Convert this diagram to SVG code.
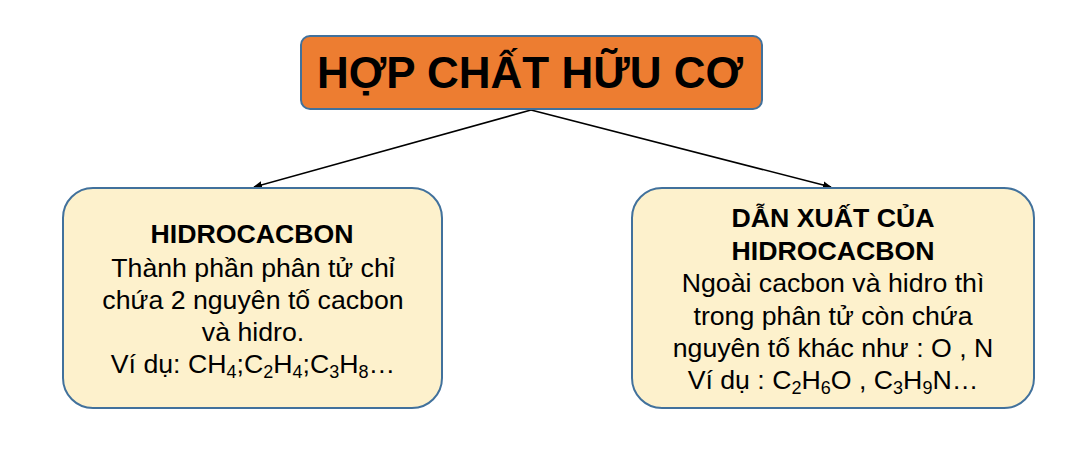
<svg xmlns="http://www.w3.org/2000/svg" width="1090" height="450" viewBox="0 0 1090 450">
<style>
.box{fill:#FDF1CC;stroke:#41719C;stroke-width:2}
.t{font-family:"Liberation Sans",Arial,sans-serif;fill:#000;text-anchor:middle;font-size:26.7px}
.b{font-weight:bold}
.s{font-size:18px}
</style>
<defs>
<marker id="ah" viewBox="0 0 10 10" refX="9" refY="5" markerWidth="9" markerHeight="9" orient="auto" markerUnits="userSpaceOnUse">
<path d="M0,1 L10,5 L0,9 z" fill="#000"/>
</marker>
</defs>
<rect width="1090" height="450" fill="#fff"/>
<g id="connectors" stroke="#000" stroke-width="1.6" fill="none">
<line x1="531" y1="110" x2="254" y2="187" marker-end="url(#ah)"/>
<line x1="531" y1="110" x2="831" y2="187" marker-end="url(#ah)"/>
</g>
<g id="root">
<rect x="301" y="36" width="461" height="73" rx="9" fill="#ED7D31" stroke="#41719C" stroke-width="2"/>
<text class="t b" x="530" y="88" style="font-size:44px">HỢP CHẤT HỮU CƠ</text>
</g>
<g id="hidrocacbon">
<rect class="box" x="63" y="188" width="379" height="220" rx="30"/>
<text class="t b" x="252" y="243">HIDROCACBON</text>
<text class="t" x="253" y="277">Thành phần phân tử chỉ</text>
<text class="t" x="253" y="309">chứa 2 nguyên tố cacbon</text>
<text class="t" x="253" y="341">và hidro.</text>
<text class="t" x="253" y="373">Ví dụ: CH<tspan class="s" dy="5">4</tspan><tspan dy="-5">;C</tspan><tspan class="s" dy="5">2</tspan><tspan dy="-5">H</tspan><tspan class="s" dy="5">4</tspan><tspan dy="-5">;C</tspan><tspan class="s" dy="5">3</tspan><tspan dy="-5">H</tspan><tspan class="s" dy="5">8</tspan><tspan dy="-5">…</tspan></text>
</g>
<g id="dan-xuat">
<rect class="box" x="632" y="188" width="402" height="220" rx="30"/>
<text class="t b" x="833" y="227">DẪN XUẤT CỦA</text>
<text class="t b" x="833" y="260">HIDROCACBON</text>
<text class="t" x="833" y="292">Ngoài cacbon và hidro thì</text>
<text class="t" x="833" y="325">trong phân tử còn chứa</text>
<text class="t" x="833" y="357">nguyên tố khác như : O , N</text>
<text class="t" x="833" y="389">Ví dụ : C<tspan class="s" dy="5">2</tspan><tspan dy="-5">H</tspan><tspan class="s" dy="5">6</tspan><tspan dy="-5">O , C</tspan><tspan class="s" dy="5">3</tspan><tspan dy="-5">H</tspan><tspan class="s" dy="5">9</tspan><tspan dy="-5">N…</tspan></text>
</g>
</svg>
